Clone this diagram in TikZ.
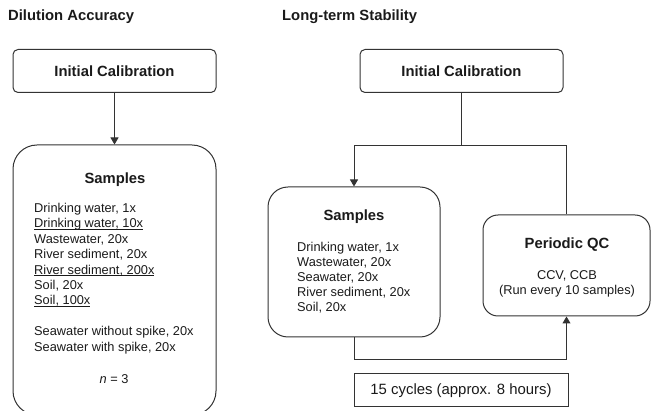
\documentclass[tikz,border=0pt]{standalone}
\usepackage{fontspec}
\setmainfont{Liberation Sans}
\usetikzlibrary{positioning,arrows.meta}

\definecolor{linegray}{HTML}{333333}
\definecolor{textgray}{HTML}{1A1A1A}
\newcommand{\uln}[1]{\underline{\smash{#1}}}
\newcommand{\headfont}{\bfseries\fontsize{14.8}{17}\selectfont}
\newcommand{\bodyfont}{\fontsize{12.8}{15.4}\selectfont}

\tikzset{
  calbox/.style={draw=linegray, line width=1pt, rounded corners=5pt, minimum width=203pt, minimum height=43pt, inner sep=0pt, font=\headfont},
  groupbox/.style={draw=linegray, line width=1pt, inner sep=0pt},
  heading/.style={inner sep=0pt, text=textgray, font=\headfont},
  bodytext/.style={inner sep=0pt, text=textgray, font=\bodyfont},
  link/.style={draw=linegray, line width=1pt},
  arrow/.style={link, -{Triangle[length=7pt, width=8pt]}}
}

\begin{document}
\begin{tikzpicture}[x=1pt, y=-1pt, text=textgray]
  \useasboundingbox (0,0) rectangle (651,411);

  % Dilution Accuracy
  \node[heading, anchor=base west] (titleL) at (8,21) {Dilution Accuracy};
  \node[calbox] (calL) at (114.5,71) {Initial Calibration};
  \node[groupbox, rounded corners=24pt, minimum width=203pt, minimum height=270pt] (sampL) at (114.5,280) {};
  \node[heading] (sampLtitle) at (115,180) {Samples};
  \node[bodytext, anchor=north west, align=left] (sampLlist) at (34,203) {Drinking water, 1x\\ \uln{Drinking water, 10x}\\ Wastewater, 20x\\ River sediment, 20x\\ \uln{River sediment, 200x}\\ Soil, 20x\\ \uln{Soil, 100x}\\[15.4pt] Seawater without spike, 20x\\ Seawater with spike, 20x};
  \node[bodytext] (sampLn) at (114,379) {\textit{n} = 3};
  \draw[arrow] (calL) -- (sampL);

  % Long-term Stability
  \node[heading, anchor=base west] (titleR) at (282,21) {Long-term Stability};
  \node[calbox] (calR) at (461.5,71) {Initial Calibration};
  \node[groupbox, rounded corners=20pt, minimum width=172pt, minimum height=150pt] (sampR) at (354,262) {};
  \node[heading] (sampRtitle) at (354,217) {Samples};
  \node[bodytext, anchor=north west, align=left, font=\fontsize{12.8}{15}\selectfont] (sampRlist) at (297,242) {Drinking water, 1x\\ Wastewater, 20x\\ Seawater, 20x\\ River sediment, 20x\\ Soil, 20x};
  \node[groupbox, rounded corners=15pt, minimum width=167pt, minimum height=101pt] (qc) at (566.5,265.5) {};
  \node[heading] (qctitle) at (567,245) {Periodic QC};
  \node[bodytext, align=center, font=\fontsize{12.8}{15}\selectfont] (qcnote) at (567,283.5) {CCV, CCB\\ (Run every 10 samples)};
  \node[groupbox, minimum width=214pt, minimum height=33pt, font=\fontsize{14.9}{17}\selectfont] (cycles) at (461,390.5) {15 cycles (approx. 8 hours)};

  \draw[link] (calR.south) -- ++(0,53) coordinate (split);
  \draw[arrow] (split) -| (sampR.north);
  \draw[link] (split) -| (qc.north);
  \draw[arrow] (sampR.south) -- ++(0,22) -| (qc.south);
\end{tikzpicture}
\end{document}
